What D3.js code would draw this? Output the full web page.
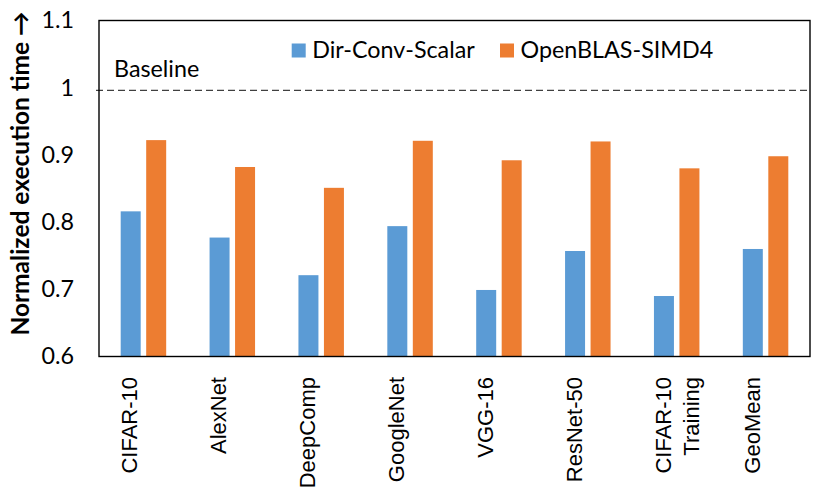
<!DOCTYPE html>
<html>
<head>
<meta charset="utf-8">
<script src="https://cdn.jsdelivr.net/npm/d3@7"></script>
<style>
  html, body { margin: 0; padding: 0; background: #fff; }
  svg { display: block; }
</style>
</head>
<body>
<svg id="chart" width="830" height="504"></svg>
<script>
// ---- data ----
const categories = ["CIFAR-10", "AlexNet", "DeepComp", "GoogleNet", "VGG-16", "ResNet-50", "CIFAR-10\nTraining", "GeoMean"];
const seriesNames = ["Dir-Conv-Scalar", "OpenBLAS-SIMD4"];
const dirConvScalar = [0.816, 0.777, 0.721, 0.794, 0.699, 0.757, 0.690, 0.760];
const openBlasSimd4 = [0.922, 0.882, 0.851, 0.921, 0.892, 0.920, 0.880, 0.898];
const yTicks = [0.6, 0.7, 0.8, 0.9, 1, 1.1];
const yDomain = [0.6, 1.1];
const baselineValue = 0.996;
const baselineLabel = "Baseline";
const yTitle = "Normalized execution time \u2192";

// ---- styles ----
const colors = { "Dir-Conv-Scalar": "#5B9BD5", "OpenBLAS-SIMD4": "#ED7D31" };
const mainFont = "Lato, 'Open Sans', sans-serif";
const catFont = "'Liberation Sans', Arial, sans-serif";
const mainSize = 23.3;

const svg = d3.select("#chart");
const margin = { top: 20.5, right: 20, bottom: 147.5, left: 99 };
const W = 830, H = 504;
const x0 = margin.left, x1 = W - margin.right;
const yTop = margin.top, yBot = H - margin.bottom;

const x = d3.scaleBand().domain(categories).range([x0, x1]).paddingInner(0).paddingOuter(0);
const xs = d3.scaleBand().domain(seriesNames).range([0, x.bandwidth()]).paddingInner(0.2157).paddingOuter(0.851);
const y = d3.scaleLinear().domain(yDomain).range([yBot, yTop]);

const rows = categories.map((c, i) => ({ cat: c, values: [
  { s: seriesNames[0], v: dirConvScalar[i] },
  { s: seriesNames[1], v: openBlasSimd4[i] }
]}));

// bars
const g = svg.append("g");
g.selectAll("g.cat").data(rows).join("g")
  .attr("class", "cat")
  .attr("transform", d => `translate(${x(d.cat)},0)`)
  .selectAll("rect").data(d => d.values).join("rect")
  .attr("x", d => xs(d.s))
  .attr("width", xs.bandwidth())
  .attr("y", d => y(d.v))
  .attr("height", d => y(yDomain[0]) - y(d.v))
  .attr("fill", d => colors[d.s]);

// baseline dashed line
svg.append("line")
  .attr("x1", x0 - 3).attr("x2", x1)
  .attr("y1", y(baselineValue)).attr("y2", y(baselineValue))
  .attr("stroke", "#404040").attr("stroke-width", 1.3)
  .attr("stroke-dasharray", "7,4");

svg.append("text")
  .attr("x", 114).attr("y", 76.5)
  .attr("font-family", mainFont).attr("font-size", mainSize)
  .attr("fill", "#000")
  .text(baselineLabel);

// frame
svg.append("rect")
  .attr("x", x0).attr("y", yTop)
  .attr("width", x1 - x0).attr("height", yBot - yTop)
  .attr("fill", "none").attr("stroke", "#000").attr("stroke-width", 1.4);

// y axis labels
const yAxis = d3.axisLeft(y).tickValues(yTicks).tickSize(0).tickPadding(25)
  .tickFormat(d3.format("~g"));
const ya = svg.append("g").attr("transform", `translate(${x0},0)`).call(yAxis);
ya.select(".domain").remove();
ya.selectAll("text")
  .attr("font-family", mainFont).attr("font-size", mainSize).attr("fill", "#000");

// y title
svg.append("text")
  .attr("transform", `translate(28.5,173.5) rotate(-90)`)
  .attr("text-anchor", "middle")
  .attr("font-family", mainFont).attr("font-weight", "bold").attr("font-size", 24.5)
  .attr("fill", "#000")
  .text(yTitle);

// category labels (two-line blocks, centered on band)
const lineH = 28;
const catG = svg.append("g");
categories.forEach(c => {
  const lines = c.split("\n");
  while (lines.length < 2) lines.push("");
  const bc = x(c) + x.bandwidth() / 2;
  const t = catG.append("text")
    .attr("transform", `translate(${bc - lineH / 2 + 8},377) rotate(-90)`)
    .attr("text-anchor", "end")
    .attr("font-family", catFont).attr("font-size", 22)
    .attr("fill", "#000");
  lines.forEach((ln, i) => {
    t.append("tspan").attr("x", 0).attr("dy", i === 0 ? 0 : lineH).text(ln);
  });
});

// legend
const legendX = [291.7, 500];
const leg = svg.append("g");
seriesNames.forEach((s, i) => {
  leg.append("rect").attr("x", legendX[i]).attr("y", 43.5).attr("width", 14).attr("height", 14).attr("fill", colors[s]);
  leg.append("text").attr("x", legendX[i] + 20.5).attr("y", 57.5)
    .attr("font-family", mainFont).attr("font-size", mainSize).attr("fill", "#000").text(s);
});
</script>
</body>
</html>
